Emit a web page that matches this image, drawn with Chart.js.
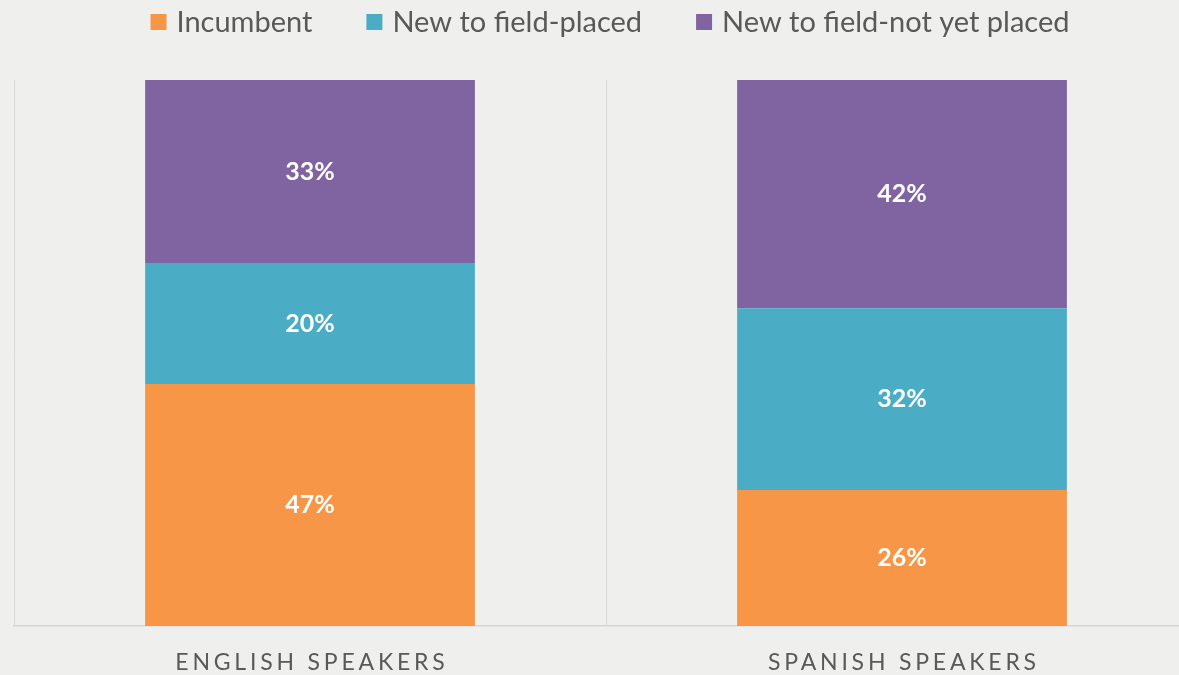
<!DOCTYPE html>
<html>
<head>
<meta charset="utf-8">
<script src="https://cdn.jsdelivr.net/npm/chart.js@4/dist/chart.umd.min.js"></script>
<style>
  html, body { margin: 0; padding: 0; overflow: hidden; background: #efefee; }
  #wrap { width: 1212px; height: 675px; position: relative; }
</style>
</head>
<body>
<div id="wrap"><canvas id="chart"></canvas></div>
<script>
// Categories and series (segment heights, in % of the bar)
const categories = ['ENGLISH SPEAKERS', 'SPANISH SPEAKERS'];
const incumbent = [44.3, 24.9];
const placed = [22.2, 33.3];
const notPlaced = [33.5, 41.8];
// Labels printed on the segments
const incumbentLabels = ['47%', '26%'];
const placedLabels = ['20%', '32%'];
const notPlacedLabels = ['33%', '42%'];

const textColor = '#595959';

// Legend row across the top, built from the datasets
const topLegend = {
    id: 'topLegend',
    afterDraw(chart) {
        const ctx = chart.ctx;
        const box = 16, gapText = 10, gapItem = 54;
        ctx.save();
        ctx.font = '29px Lato';
        ctx.textBaseline = 'middle';
        ctx.textAlign = 'left';
        const items = chart.data.datasets.map(ds => ({
            text: ds.label,
            color: ds.backgroundColor,
            w: ctx.measureText(ds.label).width
        }));
        let total = 0;
        items.forEach((it, i) => {
            total += box + gapText + it.w + (i < items.length - 1 ? gapItem : 0);
        });
        let x = 610 - total / 2;
        const y = 22;
        items.forEach(it => {
            ctx.fillStyle = it.color;
            ctx.fillRect(x, y - box / 2, box, box);
            ctx.fillStyle = textColor;
            ctx.fillText(it.text, x + box + gapText, y + 1);
            x += box + gapText + it.w + gapItem;
        });
        ctx.restore();
    }
};

// Draws the white percent labels in the middle of each segment
const segmentLabels = {
    id: 'segmentLabels',
    afterDatasetsDraw(chart) {
        const ctx = chart.ctx;
        ctx.save();
        ctx.font = 'bold 25px Lato';
        ctx.fillStyle = '#ffffff';
        ctx.textAlign = 'center';
        ctx.textBaseline = 'middle';
        chart.data.datasets.forEach((ds, i) => {
            const meta = chart.getDatasetMeta(i);
            meta.data.forEach((bar, j) => {
                const p = bar.getCenterPoint();
                ctx.fillText(ds.segLabels[j], p.x, p.y);
            });
        });
        ctx.restore();
    }
};

// Category names under the axis, letter-spaced
const categoryNames = {
    id: 'categoryNames',
    afterDraw(chart) {
        const ctx = chart.ctx;
        const xScale = chart.scales.x;
        const spacing = 3.8;
        ctx.save();
        ctx.font = '23px Lato';
        ctx.fillStyle = textColor;
        ctx.textAlign = 'center';
        ctx.textBaseline = 'middle';
        ctx.letterSpacing = spacing + 'px';
        categories.forEach((c, i) => {
            ctx.fillText(c, xScale.getPixelForTick(i) + spacing / 2, 663);
        });
        ctx.restore();
    }
};

const ctx = document.getElementById('chart').getContext('2d');
const chart = new Chart(ctx, {
    type: 'bar',
    data: {
        labels: categories,
        datasets: [
            {
                label: 'Incumbent',
                data: incumbent,
                segLabels: incumbentLabels,
                backgroundColor: '#f79646'
            },
            {
                label: 'New to field-placed',
                data: placed,
                segLabels: placedLabels,
                backgroundColor: '#4bacc6'
            },
            {
                label: 'New to field-not yet placed',
                data: notPlaced,
                segLabels: notPlacedLabels,
                backgroundColor: '#8064a2'
            }
        ]
    },
    options: {
        responsive: true,
        maintainAspectRatio: false,
        animation: false,
        barPercentage: 1,
        categoryPercentage: 0.557,
        layout: {
            padding: { left: 14, right: 14, top: 80, bottom: 49 }
        },
        plugins: {
            legend: { display: false },
            tooltip: { enabled: false }
        },
        scales: {
            x: {
                stacked: true,
                grid: {
                    color: '#d6d6d6',
                    lineWidth: 1,
                    drawTicks: false
                },
                border: { color: '#d6d6d6', width: 1.5 },
                ticks: { display: false }
            },
            y: {
                stacked: true,
                display: false,
                min: 0,
                max: 100
            }
        }
    },
    plugins: [segmentLabels, categoryNames, topLegend]
});
</script>
</body>
</html>
